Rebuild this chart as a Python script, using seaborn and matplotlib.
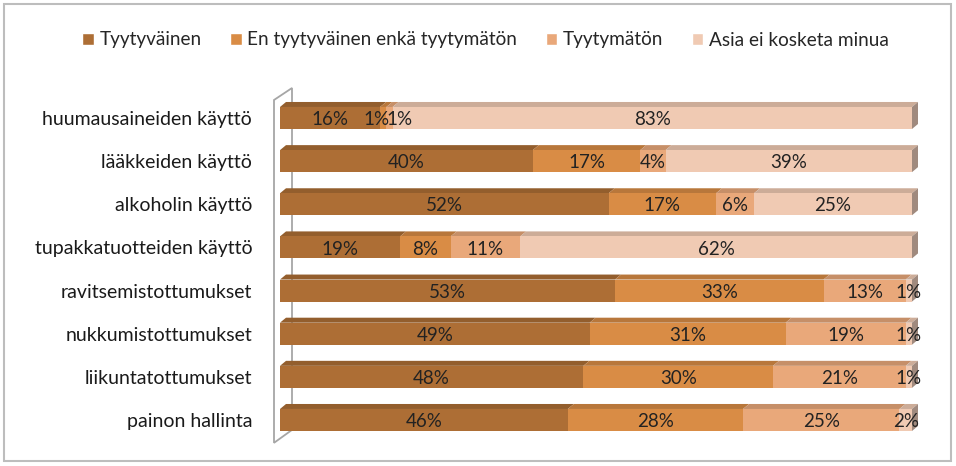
import numpy as np
import pandas as pd
import seaborn as sns
import matplotlib.pyplot as plt
from matplotlib.patches import Polygon, Rectangle
from matplotlib.colors import to_rgb

categories = ['huumausaineiden käyttö', 'lääkkeiden käyttö', 'alkoholin käyttö',
              'tupakkatuotteiden käyttö', 'ravitsemistottumukset', 'nukkumistottumukset',
              'liikuntatottumukset', 'painon hallinta']
series = ['Tyytyväinen', 'En tyytyväinen enkä tyytymätön', 'Tyytymätön', 'Asia ei kosketa minua']
tyytyvainen = [16, 40, 52, 19, 53, 49, 48, 46]
neutraali = [1, 17, 17, 8, 33, 31, 30, 28]
tyytymaton = [1, 4, 6, 11, 13, 19, 21, 25]
ei_koske = [83, 39, 25, 62, 1, 1, 1, 2]
colors = ['#AD6E35', '#D98C45', '#E9A87A', '#F0CAB3']

sns.set_theme(style='white')
plt.rcParams['font.family'] = ['Lato', 'DejaVu Sans']

vals = np.array([tyytyvainen, neutraali, tyytymaton, ei_koske], dtype=float)
shares = vals / vals.sum(axis=0) * 100  # rounded labels sum to 101 in two rows
cum = np.cumsum(shares, axis=0)
df = pd.DataFrame({'kategoria': categories})
for k, s in enumerate(series):
    df[s] = cum[k]

W, H = 956, 466
fig = plt.figure(figsize=(W / 100, H / 100), dpi=100)
ax = fig.add_axes([280 / W, 1 - 445 / H, (912 - 280) / W, (445 - 88) / H])

bh = 0.51
for k in range(3, -1, -1):
    sns.barplot(data=df, x=series[k], y='kategoria', orient='h', color=colors[k],
                width=bh, linewidth=0, saturation=1, errorbar=None, ax=ax, zorder=3)

ax.set_xlim(0, 100)
ax.set_ylim(7.58, -0.695)

# pseudo-3D faces
px_x = 100 / (912 - 280)
px_y = 1 / 43.14
dx, dy = 6 * px_x, 5 * px_y
for i in range(len(categories)):
    top = i - bh / 2
    left = 0
    # two tiny middle segments side by side -> spread their labels a bit
    squeeze = vals[1, i] < 3 and vals[2, i] < 3
    for k in range(4):
        right = cum[k, i]
        c = np.array(to_rgb(colors[k])) * 0.85
        ax.add_patch(Polygon([(left, top), (right, top), (right + dx, top - dy), (left + dx, top - dy)],
                             closed=True, facecolor=c, edgecolor='none', zorder=2, clip_on=False))
        shift = 0
        if squeeze and k == 1:
            shift = -7
        elif squeeze and k == 2:
            shift = 10
        ax.annotate(f'{vals[k, i]:.0f}%', ((left + right) / 2, i + 0.04), xytext=(shift, 0),
                    textcoords='offset pixels', ha='center', va='center',
                    fontsize=13.5, color='#222222', zorder=5)
        left = right
    ax.add_patch(Polygon([(100, top), (100 + dx, top - dy), (100 + dx, top + bh - dy), (100, top + bh)],
                         closed=True, facecolor='#A08A7E', edgecolor='none', zorder=4, clip_on=False))

# left wall
wx0, wx1 = -6 * px_x, 12 * px_x
ax.add_patch(Polygon([(wx0, -0.417), (wx1, -0.695), (wx1, 7.23), (wx0, 7.53)], closed=True,
                     facecolor='white', edgecolor='#A6A6A6', linewidth=1.3, zorder=1, clip_on=False))

ax.set_xlabel('')
ax.set_ylabel('')
ax.set_xticks([])
ax.tick_params(axis='y', length=0, pad=20, labelsize=14, labelcolor='#1A1A1A')
for sp in ax.spines.values():
    sp.set_visible(False)
ax.patch.set_alpha(0)

handles = [Rectangle((0, 0), 1, 1, facecolor=c) for c in colors]
fig.legend(handles, series, loc='center', bbox_to_anchor=(0.508, 1 - 40 / H), ncol=4,
           frameon=False, fontsize=13.7, handlelength=0.6, handleheight=0.6,
           handletextpad=0.3, columnspacing=1.5)

fig.patches.append(Rectangle((4 / W, 5 / H), 947 / W, 457 / H, transform=fig.transFigure,
                             fill=False, edgecolor='#BDBDBD', linewidth=1.5))

fig.savefig('out.png', dpi=100)
